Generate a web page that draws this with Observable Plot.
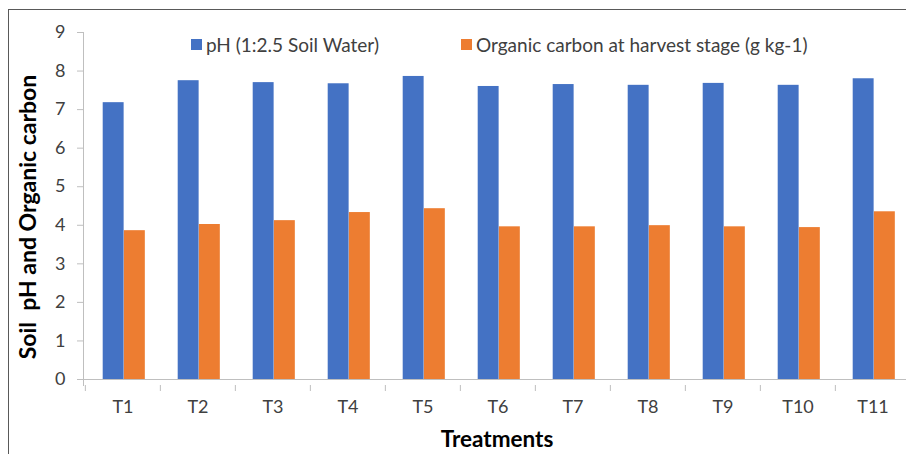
<!DOCTYPE html>
<html>
<head>
<meta charset="utf-8">
<script src="https://cdn.jsdelivr.net/npm/d3@7"></script>
<script src="https://cdn.jsdelivr.net/npm/@observablehq/plot@0.6"></script>
<style>
  html, body { margin: 0; padding: 0; background: #fff; overflow: hidden; }
  #wrap { position: relative; width: 906px; height: 454px; overflow: hidden; }
  #border { position: absolute; left: 8px; top: 9px; width: 2000px; height: 2000px;
            border-left: 1.5px solid #595959; border-top: 1.5px solid #595959; pointer-events: none; z-index: 2; }
  #legend { position: absolute; top: 33px; left: 0; font-family: Lato, "Open Sans", sans-serif; font-size: 19px; color: #404040; z-index: 3; }
  .item { position: absolute; white-space: nowrap; display: flex; align-items: center; }
  .sw { display: inline-block; width: 11px; height: 11px; margin-right: 4px; }
</style>
</head>
<body>
<div id="wrap">
  <div id="border"></div>
  <div id="legend"></div>
</div>
<script>
const treatments = ["T1","T2","T3","T4","T5","T6","T7","T8","T9","T10","T11"];
const phValues = [7.18, 7.75, 7.70, 7.67, 7.86, 7.60, 7.65, 7.63, 7.68, 7.63, 7.80];
const ocValues = [3.86, 4.02, 4.12, 4.33, 4.43, 3.96, 3.96, 3.99, 3.96, 3.94, 4.35];
const seriesNames = ["pH (1:2.5 Soil Water)", "Organic carbon at harvest stage (g kg-1)"];
const seriesColors = ["#4472C4", "#ED7D31"];
const yTicks = [0,1,2,3,4,5,6,7,8,9];

const phData = treatments.map((t, i) => ({t, v: phValues[i]}));
const ocData = treatments.map((t, i) => ({t, v: ocValues[i]}));

const W = 906, H = 454;
const xRange = [83, 911];
const step = (xRange[1] - xRange[0]) / treatments.length;
const barW = 21.2;
const left1 = 17.7;

const font = "Lato, 'Open Sans', sans-serif";

const chart = Plot.plot({
  width: W,
  height: H,
  marginLeft: 83,
  marginRight: 0,
  marginTop: 32,
  marginBottom: 69,
  style: {fontFamily: font, fontSize: "18px", background: "transparent", overflow: "visible"},
  x: {type: "band", domain: treatments, range: xRange, padding: 0},
  y: {domain: [0, 9], range: [379, 32]},
  marks: [
    Plot.barY(phData, {x: "t", y: "v", fill: seriesColors[0], insetLeft: left1, insetRight: step - left1 - barW}),
    Plot.barY(ocData, {x: "t", y: "v", fill: seriesColors[1], insetLeft: left1 + barW, insetRight: step - left1 - 2 * barW}),
    Plot.frame({anchor: "left", stroke: "#bfbfbf", strokeWidth: 1}),
    Plot.ruleY([0], {stroke: "#bfbfbf", strokeWidth: 1}),
    Plot.axisY(yTicks, {tickSize: 6, tickPadding: 12, fontSize: 18, stroke: "#bfbfbf", fill: "#404040", label: null}),
    Plot.axisX({tickSize: 6, tickFormat: () => "", dx: -step / 2, stroke: "#bfbfbf", label: null}),
    Plot.axisX({tickSize: 0, tickPadding: 15, fontSize: 18, fill: "#404040", label: null}),
    Plot.text(["Soil  pH and Organic carbon"], {frameAnchor: "left", rotate: -90, dx: -55, dy: 8, fontSize: 23, fontWeight: "bold", fill: "#000", textAnchor: "middle"}),
    Plot.text(["Treatments"], {frameAnchor: "bottom", dy: 61, dx: 2, fontSize: 22.5, fontWeight: "bold", fill: "#000"})
  ]
});
document.getElementById("wrap").appendChild(chart);

const legend = document.getElementById("legend");
const positions = [191, 461];
seriesNames.forEach((name, i) => {
  const it = document.createElement("div");
  it.className = "item";
  it.style.left = positions[i] + "px";
  it.innerHTML = `<span class="sw" style="background:${seriesColors[i]}"></span><span>${name}</span>`;
  legend.appendChild(it);
});
</script>
</body>
</html>
